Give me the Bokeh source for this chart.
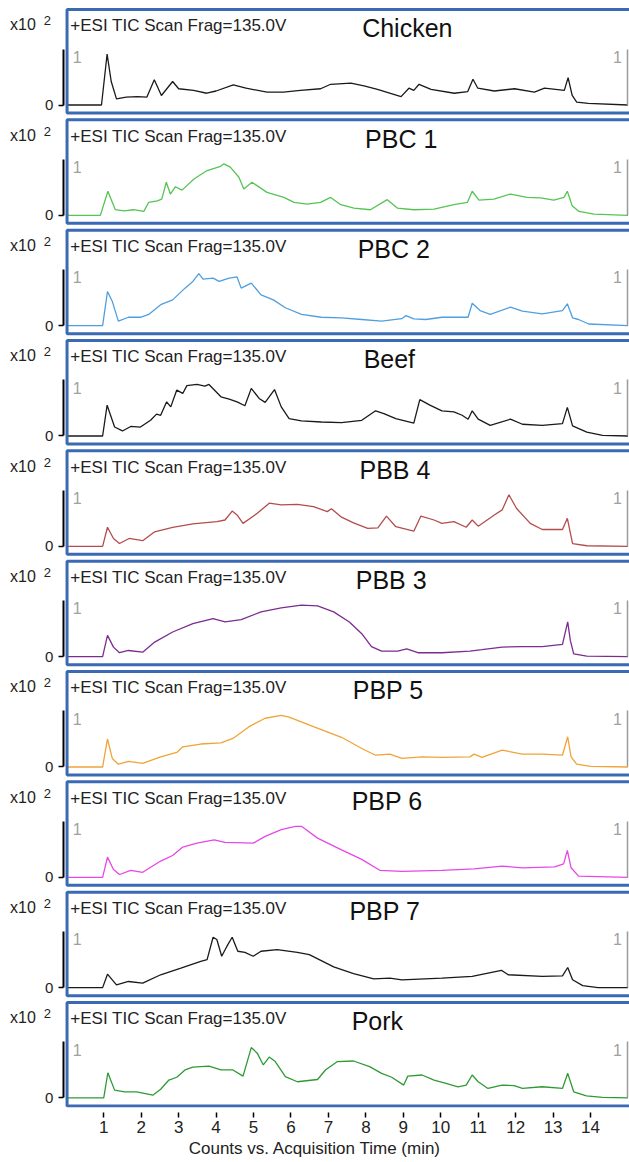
from bokeh.plotting import figure
from bokeh.models import Range1d, LinearAxis, FixedTicker, Label, BoxAnnotation
from bokeh.layouts import column
from bokeh.embed import file_html
from bokeh.resources import INLINE

FONT = "Liberation Sans"

# ---- data: (time [min], counts x10^2) ----
chicken = [(0,0),(0.94,0),(1.09,0.91),(1.2,0.42),(1.34,0.11),(1.6,0.14),(1.9,0.15),(2.15,0.14),(2.35,0.45),(2.54,0.17),(2.84,0.42),(3.0,0.29),(3.4,0.26),(3.75,0.21),(4.0,0.25),(4.46,0.36),(4.8,0.30),(5.36,0.23),(5.8,0.23),(6.25,0.26),(6.79,0.29),(7.06,0.37),(7.6,0.39),(7.95,0.34),(8.31,0.28),(8.94,0.15),(9.15,0.30),(9.28,0.26),(9.42,0.37),(9.74,0.28),(10.36,0.21),(10.72,0.24),(10.86,0.46),(10.99,0.30),(11.43,0.25),(11.97,0.29),(12.5,0.23),(12.77,0.30),(13.3,0.26),(13.4,0.49),(13.51,0.17),(13.63,0.05),(13.94,0.03),(15,0.0)]
pbc1 = [(0,0),(0.91,0),(1.11,0.43),(1.31,0.10),(1.54,0.08),(1.8,0.10),(2.07,0.07),(2.2,0.23),(2.43,0.26),(2.55,0.29),(2.67,0.59),(2.78,0.38),(2.91,0.51),(3.09,0.45),(3.41,0.65),(3.76,0.80),(4.12,0.875),(4.21,0.92),(4.38,0.86),(4.61,0.68),(4.74,0.47),(4.96,0.59),(5.36,0.41),(5.81,0.32),(6.08,0.23),(6.43,0.20),(6.79,0.23),(7.06,0.32),(7.33,0.19),(7.68,0.13),(8.12,0.10),(8.57,0.28),(8.84,0.13),(9.28,0.10),(9.82,0.11),(10.35,0.19),(10.71,0.23),(10.84,0.43),(11.02,0.27),(11.42,0.29),(11.86,0.38),(12.31,0.32),(12.66,0.31),(13.02,0.27),(13.29,0.32),(13.38,0.43),(13.51,0.17),(13.69,0.07),(14.09,0.02),(15,0.0)]
pbc2 = [(0,0),(0.97,0),(1.1,0.61),(1.23,0.43),(1.39,0.08),(1.66,0.15),(1.98,0.15),(2.2,0.2),(2.52,0.375),(2.84,0.46),(3.17,0.67),(3.38,0.79),(3.54,0.93),(3.65,0.83),(3.92,0.85),(4.08,0.79),(4.35,0.85),(4.56,0.87),(4.67,0.67),(4.94,0.76),(5.2,0.55),(5.53,0.46),(5.85,0.32),(6.28,0.20),(6.81,0.15),(7.35,0.14),(7.89,0.11),(8.42,0.08),(8.96,0.125),(9.07,0.18),(9.28,0.12),(9.6,0.11),(10.03,0.15),(10.73,0.15),(10.84,0.40),(11.05,0.27),(11.32,0.20),(11.86,0.33),(12.18,0.26),(12.71,0.21),(13.25,0.27),(13.38,0.39),(13.52,0.14),(13.68,0.11),(13.95,0.03),(15,0.0)]
beef = [(0,0),(0.97,0),(1.09,0.55),(1.29,0.16),(1.5,0.09),(1.72,0.17),(1.98,0.16),(2.25,0.28),(2.41,0.39),(2.52,0.37),(2.68,0.61),(2.79,0.52),(2.95,0.82),(3.11,0.76),(3.22,0.90),(3.49,0.92),(3.7,0.89),(3.81,0.92),(4.13,0.70),(4.35,0.66),(4.56,0.61),(4.77,0.54),(4.94,0.85),(5.15,0.67),(5.31,0.60),(5.56,0.83),(5.74,0.52),(5.95,0.31),(6.28,0.27),(6.81,0.25),(7.35,0.24),(7.89,0.28),(8.26,0.45),(8.48,0.40),(8.8,0.31),(9.28,0.23),(9.44,0.65),(9.71,0.55),(10.03,0.45),(10.35,0.43),(10.57,0.37),(10.73,0.30),(10.84,0.45),(11.0,0.30),(11.32,0.19),(11.86,0.30),(12.18,0.21),(12.71,0.19),(13.25,0.22),(13.38,0.51),(13.52,0.18),(13.9,0.07),(14.32,0.01),(15,0.0)]
pbb4 = [(0,0),(0.97,0),(1.1,0.34),(1.26,0.14),(1.42,0.05),(1.68,0.14),(2.04,0.10),(2.36,0.26),(2.84,0.34),(3.38,0.40),(4.02,0.44),(4.24,0.47),(4.43,0.63),(4.56,0.56),(4.72,0.41),(5.1,0.59),(5.42,0.77),(5.74,0.74),(6.17,0.75),(6.6,0.71),(6.97,0.62),(7.08,0.67),(7.35,0.52),(7.67,0.42),(8.05,0.32),(8.32,0.33),(8.55,0.54),(8.8,0.35),(9.28,0.27),(9.47,0.54),(9.82,0.47),(10.03,0.41),(10.35,0.44),(10.68,0.34),(10.84,0.47),(11.0,0.36),(11.43,0.56),(11.64,0.65),(11.82,0.92),(12.02,0.68),(12.39,0.41),(12.71,0.30),(13.25,0.30),(13.38,0.50),(13.52,0.05),(13.9,0.01),(15,0.0)]
pbb3 = [(0,0),(0.97,0),(1.1,0.38),(1.26,0.17),(1.42,0.07),(1.66,0.11),(2.04,0.08),(2.36,0.26),(2.84,0.44),(3.38,0.59),(3.92,0.68),(4.24,0.62),(4.67,0.66),(5.2,0.80),(5.74,0.87),(6.28,0.92),(6.71,0.905),(7.14,0.80),(7.56,0.62),(7.89,0.41),(8.15,0.18),(8.42,0.10),(8.85,0.10),(9.09,0.14),(9.39,0.07),(10.03,0.07),(10.78,0.10),(11.1,0.125),(11.64,0.17),(12.18,0.18),(12.71,0.18),(13.25,0.22),(13.39,0.62),(13.46,0.29),(13.55,0.05),(13.9,0.01),(15,0.0)]
pbp5 = [(0,0),(0.97,0),(1.1,0.50),(1.23,0.15),(1.39,0.05),(1.66,0.10),(2.04,0.065),(2.52,0.18),(2.95,0.26),(3.11,0.36),(3.59,0.41),(4.13,0.43),(4.45,0.51),(4.88,0.72),(5.31,0.87),(5.74,0.92),(5.95,0.89),(6.6,0.72),(7.35,0.53),(7.89,0.33),(8.26,0.21),(8.64,0.23),(8.96,0.155),(9.5,0.18),(10.03,0.17),(10.78,0.18),(10.89,0.23),(11.1,0.17),(11.64,0.30),(12.18,0.23),(12.71,0.23),(13.25,0.21),(13.39,0.54),(13.48,0.18),(13.63,0.05),(14.0,0.01),(15,0.0)]
pbp6 = [(0,0),(0.97,0),(1.1,0.36),(1.26,0.14),(1.42,0.05),(1.72,0.125),(2.04,0.09),(2.52,0.29),(2.84,0.39),(3.11,0.54),(3.49,0.61),(3.95,0.67),(4.24,0.625),(4.99,0.61),(5.31,0.73),(5.74,0.85),(6.12,0.91),(6.28,0.91),(6.71,0.70),(7.35,0.49),(7.89,0.32),(8.37,0.125),(8.96,0.107),(10.03,0.125),(10.89,0.15),(11.64,0.20),(12.18,0.17),(13.04,0.185),(13.28,0.24),(13.38,0.48),(13.48,0.17),(13.68,0.02),(15,0.0)]
pbp7 = [(0,0),(0.97,0),(1.1,0.24),(1.34,0.05),(1.66,0.11),(2.04,0.08),(2.52,0.23),(3.06,0.35),(3.59,0.47),(3.76,0.50),(3.92,0.90),(4.02,0.86),(4.15,0.56),(4.29,0.74),(4.43,0.90),(4.58,0.65),(4.77,0.63),(4.99,0.56),(5.2,0.65),(5.63,0.68),(6.17,0.63),(6.49,0.59),(7.14,0.37),(7.67,0.25),(8.21,0.155),(8.64,0.17),(8.96,0.14),(10.03,0.17),(10.84,0.20),(11.62,0.31),(11.8,0.23),(12.71,0.20),(13.25,0.21),(13.39,0.36),(13.52,0.14),(13.79,0.036),(14.2,0.0),(15,0.0)]
pork = [(0,0),(1.0,0),(1.11,0.45),(1.29,0.14),(1.56,0.11),(1.88,0.11),(2.31,0.05),(2.52,0.155),(2.74,0.32),(2.95,0.37),(3.17,0.50),(3.38,0.55),(3.81,0.57),(4.13,0.50),(4.45,0.50),(4.72,0.39),(4.94,0.90),(5.1,0.80),(5.26,0.59),(5.42,0.73),(5.58,0.65),(5.85,0.38),(6.17,0.29),(6.71,0.33),(6.92,0.50),(7.24,0.65),(7.67,0.66),(8.1,0.56),(8.42,0.44),(8.69,0.37),(9.01,0.23),(9.12,0.39),(9.5,0.41),(9.82,0.32),(10.14,0.26),(10.46,0.20),(10.68,0.23),(10.84,0.41),(11.0,0.29),(11.26,0.17),(11.64,0.23),(11.96,0.22),(12.18,0.17),(12.71,0.20),(13.25,0.17),(13.39,0.44),(13.55,0.11),(13.89,0.036),(14.32,0.01),(15,0.0)]

names = ["Chicken", "PBC 1", "PBC 2", "Beef", "PBB 4", "PBB 3", "PBP 5", "PBP 6", "PBP 7", "Pork"]
series = [chicken, pbc1, pbc2, beef, pbb4, pbb3, pbp5, pbp6, pbp7, pork]
subtitle = "+ESI TIC Scan Frag=135.0V"
x_ticks = [1, 2, 3, 4, 5, 6, 7, 8, 9, 10, 11, 12, 13, 14]
x_label = "Counts vs. Acquisition Time (min)"

# ---- styles / layout ----
colors = ["#1a1a1a", "#55c455", "#4f9fe0", "#1a1a1a", "#b34d4d",
          "#7b2d8e", "#f0a438", "#e648e6", "#1a1a1a", "#2f9a35"]
title_x = [7.90, 7.98, 7.78, 7.94, 7.83, 7.73, 7.65, 7.62, 7.56, 7.62]

BLUE = "#3a6ab3"
PX_PER_UNIT = 56.0          # pixels per 1 x10^2 counts
PERIOD = 110.33             # vertical distance between panels (px)
BASE0 = 104.5               # pixel row of zero in the first panel
fig_tops = [0, 116, 226, 337, 447, 557, 668, 778, 888, 999]
frame_h = [116, 110, 111, 110, 110, 111, 110, 110, 111, 108]
X_RANGE = (-1.757, 15.04)

figs = []
for i, (name, data, col, tx) in enumerate(zip(names, series, colors, title_x)):
    last = (i == len(names) - 1)
    H = frame_h[i]
    rel = BASE0 + PERIOD * i - fig_tops[i]
    y0 = (rel - H) / PX_PER_UNIT
    y1 = rel / PX_PER_UNIT
    p = figure(frame_width=629, frame_height=H,
               x_range=Range1d(*X_RANGE), y_range=Range1d(y0, y1),
               x_axis_type=None, y_axis_type=None,
               output_backend="svg", toolbar_location=None,
               min_border_left=0, min_border_right=0, min_border_top=0,
               min_border_bottom=0)
    p.outline_line_color = None
    p.background_fill_color = "white"
    p.border_fill_color = "white"

    ts = [d[0] for d in data]
    vs = [d[1] for d in data]
    p.line(ts, vs, line_color=col, line_width=1.3)

    p.add_layout(BoxAnnotation(left=0.02, right=15.3, bottom=-0.143, top=1.705,
                               fill_color=None, fill_alpha=0,
                               line_color=BLUE, line_alpha=1.0, line_width=3))

    ya = LinearAxis(fixed_location=-0.08, bounds=(0, 1),
                    ticker=FixedTicker(ticks=[0], minor_ticks=[]),
                    axis_line_color="black", axis_line_width=2,
                    major_tick_out=5, major_tick_in=0,
                    major_tick_line_color="black", major_tick_line_width=1.5,
                    minor_tick_line_color=None,
                    major_label_text_font=FONT, major_label_text_font_size="15px",
                    major_label_text_color="#222222", major_label_standoff=5)
    p.add_layout(ya, "left")

    ra = LinearAxis(fixed_location=14.985, bounds=(0, 1),
                    ticker=FixedTicker(ticks=[], minor_ticks=[]),
                    axis_line_color="#9a9a9a", axis_line_width=1.5,
                    major_tick_line_color=None, minor_tick_line_color=None,
                    major_tick_out=0, major_tick_in=0,
                    major_label_text_font_size="0px", major_label_standoff=0)
    p.add_layout(ra, "right")

    p.add_layout(Label(x=-1.50, y=1.28, text="x10", text_font=FONT,
                       text_font_size="16px", text_color="#222222"))
    p.add_layout(Label(x=-0.60, y=1.42, text="2", text_font=FONT,
                       text_font_size="13px", text_color="#222222"))
    p.add_layout(Label(x=0.107, y=1.246, text=subtitle, text_font=FONT,
                       text_font_size="17px", text_color="#222222"))
    p.add_layout(Label(x=tx, y=1.12, text=name, text_font=FONT,
                       text_font_size="25px", text_color="#111111"))
    p.add_layout(Label(x=0.17, y=0.97, text="1", text_font=FONT,
                       text_font_size="16px", text_color="#a0a0a0",
                       text_baseline="top"))
    p.add_layout(Label(x=14.84, y=0.97, text="1", text_font=FONT,
                       text_font_size="16px", text_color="#a0a0a0",
                       text_baseline="top", text_align="right"))

    if last:
        xa = LinearAxis(ticker=FixedTicker(ticks=x_ticks, minor_ticks=[]),
                        axis_line_color=None,
                        major_tick_in=-5, major_tick_out=10,
                        major_tick_line_color="black", major_tick_line_width=1.5,
                        minor_tick_line_color=None,
                        major_label_text_font=FONT, major_label_text_font_size="17px",
                        major_label_text_color="#222222", major_label_standoff=3,
                        axis_label=x_label, axis_label_text_font=FONT,
                        axis_label_text_font_size="17px",
                        axis_label_text_font_style="normal",
                        axis_label_text_color="#222222", axis_label_standoff=3)
        p.add_layout(xa, "below")
    figs.append(p)

layout = column(*figs, spacing=0)
open("out.html", "w").write(file_html(layout, INLINE))
